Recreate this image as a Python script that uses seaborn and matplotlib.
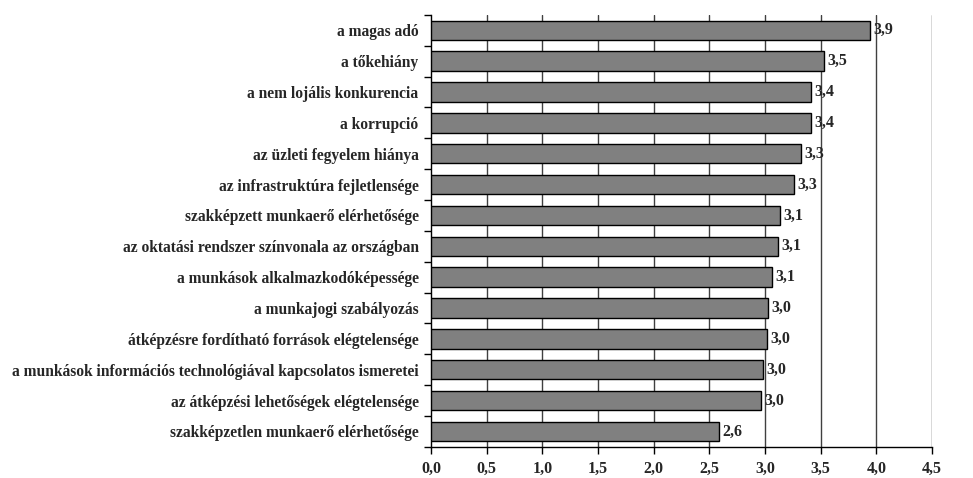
import matplotlib
matplotlib.use("Agg")
import matplotlib.pyplot as plt
import seaborn as sns
import pandas as pd
from matplotlib.ticker import FuncFormatter, FixedLocator

categories = [
    "a magas adó",
    "a tőkehiány",
    "a nem lojális konkurencia",
    "a korrupció",
    "az üzleti fegyelem hiánya",
    "az infrastruktúra fejletlensége",
    "szakképzett munkaerő elérhetősége",
    "az oktatási rendszer színvonala az országban",
    "a munkások alkalmazkodóképessége",
    "a munkajogi szabályozás",
    "átképzésre fordítható források elégtelensége",
    "a munkások információs technológiával kapcsolatos ismeretei",
    "az átképzési lehetőségek elégtelensége",
    "szakképzetlen munkaerő elérhetősége",
]
values = [3.94, 3.53, 3.41, 3.41, 3.32, 3.26, 3.13, 3.12, 3.06, 3.03, 3.02, 2.98, 2.96, 2.59]
value_labels = ["3,9", "3,5", "3,4", "3,4", "3,3", "3,3", "3,1", "3,1", "3,1", "3,0", "3,0", "3,0", "3,0", "2,6"]
xticks = [0.0, 0.5, 1.0, 1.5, 2.0, 2.5, 3.0, 3.5, 4.0, 4.5]

df = pd.DataFrame({"category": categories, "value": values})

sns.set_theme(style="white")
plt.rcParams["font.family"] = ["Liberation Serif", "DejaVu Serif"]
plt.rcParams["font.weight"] = "bold"

fig = plt.figure(figsize=(9.73, 4.78), dpi=100)
ax = fig.add_axes([0.443, 0.065, 0.515, 0.904])

sns.barplot(data=df, y="category", x="value", orient="h", color="#808080",
            edgecolor="black", linewidth=1.0, width=0.63, saturation=1, ax=ax, zorder=3)

ax.set_xlim(0, 4.5)
ax.set_ylim(len(categories) - 0.5, -0.5)
ax.set_xticks(xticks)
ax.xaxis.set_major_formatter(FuncFormatter(lambda v, p: f"{v:.1f}".replace(".", ",")))
for xv in xticks[1:]:
    ax.axvline(xv, color="#404040", linewidth=1.0, zorder=1)

ax.set_xlabel("")
ax.set_ylabel("")
for s in ["top", "right"]:
    ax.spines[s].set_visible(False)
for s in ["left", "bottom"]:
    ax.spines[s].set_visible(True)
    ax.spines[s].set_color("black")
    ax.spines[s].set_linewidth(1.0)

ax.tick_params(axis="x", which="major", bottom=True, length=5, width=1, color="black",
               labelsize=11.5, pad=5)
ax.tick_params(axis="y", which="major", left=False, length=0, labelsize=11.2, pad=9)
ax.yaxis.set_minor_locator(FixedLocator([i - 0.5 for i in range(len(categories) + 1)]))
ax.tick_params(axis="y", which="minor", left=True, length=5, width=1, color="black")
for lab in ax.get_xticklabels() + ax.get_yticklabels():
    lab.set_fontweight("bold")

for i, (v, t) in enumerate(zip(values, value_labels)):
    ax.text(v + 0.03, i, t, va="center", ha="left", fontsize=11.5, fontweight="bold", zorder=4)

fig.savefig("out.png", dpi=100)
